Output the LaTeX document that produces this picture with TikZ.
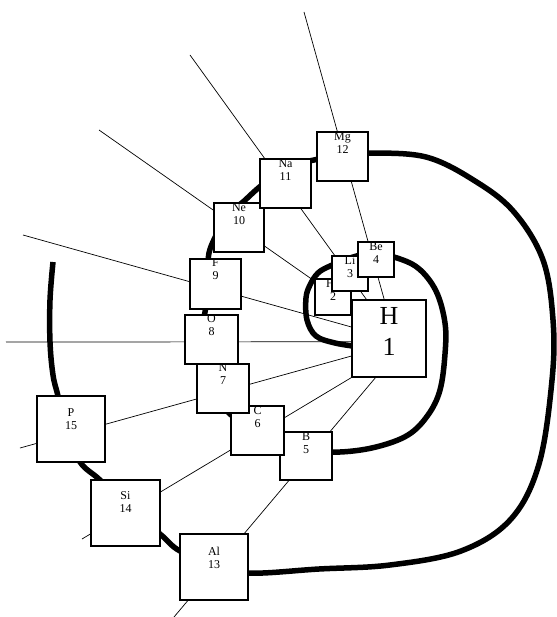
\documentclass[tikz,border=0pt]{standalone}
\usepackage{fontspec}
\setmainfont{Liberation Serif}
\usetikzlibrary{backgrounds}

\tikzset{
    elem/.style={draw, fill=white, line width=1.1pt, inner sep=0pt},
    tag/.style={anchor=north, inner sep=0pt, align=center, font=\fontsize{12}{12.5}\selectfont},
    ray/.style={line width=0.7pt},
    shell/.style={line width=5.5pt}
}

\begin{document}
\begin{tikzpicture}[x=1pt, y=-1pt]
        \useasboundingbox (0,0) rectangle (556,617);
        % hydrogen in the middle
        \node[elem, minimum width=74pt, minimum height=77pt] (H) at (389,338.5) {};
        \node[tag, font=\fontsize{26}{31}\selectfont] (H-t) at ([yshift=-8pt]H.north) {H\\1};
        % the other elements
        \foreach \nm/\cx/\cy/\bw/\bh/\anum/\dy in {He/333/297/36/36/2/1, Li/350/273.5/36/35/3/1,
            Be/376/259.5/36/35/4/1, B/306/456/52/48/5/1, C/257.5/430.5/53/49/6/1,
            N/223/388.5/52/49/7/0, O/211.5/339.5/53/49/8/0, F/215.5/284/51/50/9/0,
            Ne/239/227.5/50/49/10/1, Na/285.5/183.5/51/49/11/1, Mg/342.5/156.5/51/49/12/1,
            Al/214/567/68/66/13/14, Si/125.5/513/69/66/14/12, P/71/429/68/66/15/13}{
            \node[elem, minimum width=\bw pt, minimum height=\bh pt] (\nm) at (\cx,\cy) {};
            \node[tag] (\nm-t) at ([yshift=-\dy pt]\nm.north) {\nm\\\anum};
        }
        \begin{pgfonlayer}{background}
            % rays out of H
            \coordinate (r4) at (304,12);
            \coordinate (r3) at (190,55);
            \coordinate (r2) at (99,130);
            \coordinate (r9) at (23,235);
            \coordinate (r8) at (6,342);
            \coordinate (r7) at (20,448);
            \coordinate (r6) at (82,539);
            \coordinate (r5) at (174,617);
            \draw[ray] (H.97) -- (r4);
            \draw[ray] (H.120) -- (r3);
            \draw[ray] (H.140) -- (r2);
            \draw[ray] (H.163) -- (r9);
            \draw[ray] (H.185) -- (r8);
            \draw[ray] (H.205) -- (r7);
            \draw[ray] (H.south west) -- (r6);
            \draw[ray] (H.251) -- (r5);
            % the spiral
            \draw[shell] plot[smooth, tension=0.6] coordinates {
                (360,347) (335,343) (316,336) (307,320) (306,298) (310,285) (318,273)
                (330,266) (350,258) (372,253) (394,257) (418,268) (436,291) (445,323)
                (445,354) (440,390) (428,415) (408,435) (376,447) (340,452) (305,450)
                (270,436) (245,424) (230,414) (220,400) (208,370) (201,340) (205,312)
                (209,288) (208,262) (212,244) (228,215) (243,202) (262,185) (288,167)
                (314,160) (340,155) (368,153) (426,157) (475,181) (514,212) (543,260)
                (553,320) (552,380) (539,464) (511,519) (461,551) (390,565) (319,569)
                (248,573) (214,563) (180,551) (160,534) (128,508) (100,480) (80,462)
                (66,430) (58,396) (53,375) (50,342) (50,300) (53,262)};
        \end{pgfonlayer}
\end{tikzpicture}
\end{document}
